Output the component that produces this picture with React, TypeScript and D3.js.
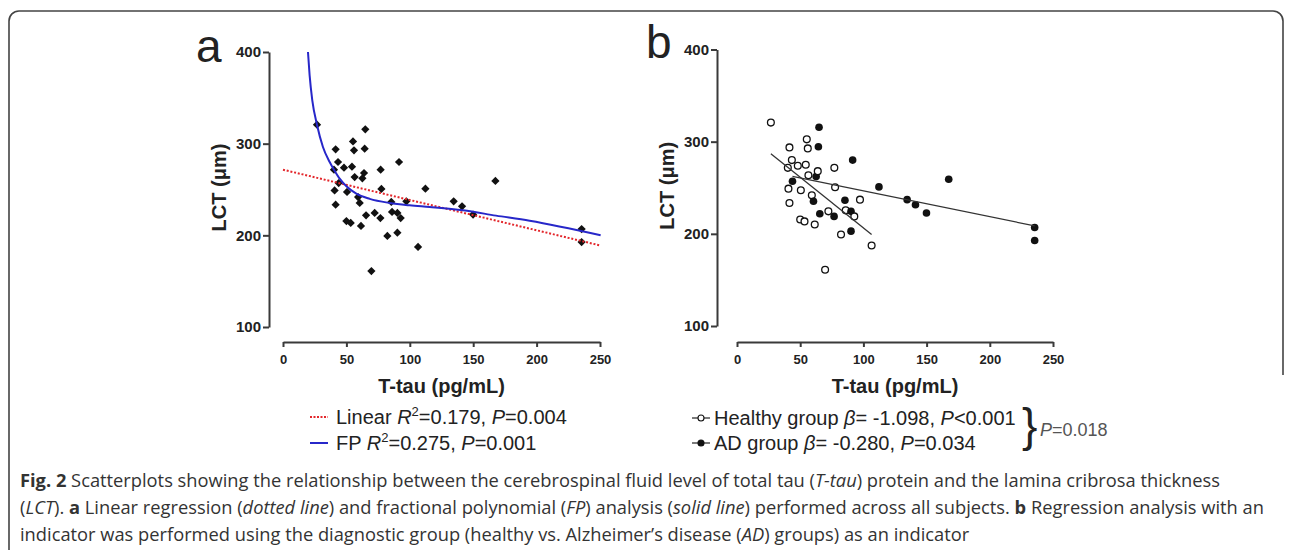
import React, { useEffect, useRef } from 'react';
import * as d3 from 'd3';

// values
// T-tau (pg/mL), LCT (um) and diagnostic group (H = healthy, A = Alzheimer's disease)
const tTau = [26.8, 41.5, 43.4, 40.2, 48.1, 43.9, 40.7, 41.5, 50.5, 55.2, 56.0, 54.4, 56.5, 62.6, 63.9, 64.9, 64.4, 59.2, 60.5, 50.0, 53.4, 61.5,
  65.5, 72.3, 76.8, 69.7, 77.0, 77.6, 85.4, 86.0, 90.2, 92.8, 82.3, 90.2, 91.5, 97.3, 106.5, 112.3, 134.6, 141.2, 149.9, 167.5, 235.5, 235.5];
const lct = [320.7, 293.8, 280.0, 271.6, 273.8, 257.0, 249.0, 233.5, 247.3, 302.5, 292.7, 274.9, 263.6, 262.2, 268.0, 315.6, 294.5, 241.8, 235.3, 215.6, 213.5, 210.2,
  221.8, 224.4, 218.9, 161.0, 271.6, 250.6, 236.4, 225.5, 224.4, 218.9, 199.3, 202.9, 280.0, 237.1, 187.3, 250.9, 237.1, 231.6, 222.6, 259.3, 206.9, 192.7];
const group = ['H', 'H', 'H', 'H', 'H', 'A', 'H', 'H', 'H', 'H', 'H', 'H', 'H', 'A', 'H', 'A', 'A', 'H', 'A', 'H', 'H', 'H',
  'A', 'H', 'A', 'H', 'H', 'H', 'A', 'H', 'A', 'H', 'H', 'A', 'A', 'H', 'H', 'A', 'A', 'A', 'A', 'A', 'A', 'A'];

const xTicks = [0, 50, 100, 150, 200, 250];
const yTicks = [100, 200, 300, 400];

// panel a fits: linear regression end points, fractional polynomial
const linearFit = [[0, 271.6], [250, 189.0]];
const fpCurve = [[19.7, 400], [21.0, 374.5], [23.1, 347.3], [26.8, 320.7], [31.5, 296.4], [36.8, 280.0], [40.2, 271.6], [44.7, 261.8],
  [50.0, 253.5], [57.8, 245.5], [68.4, 239.8], [84.1, 235.3], [99.9, 232.7], [115.7, 230.9], [142.0, 227.3], [168.0, 221.5], [194.5, 215.8], [250.5, 200.0]];

// panel b: intercept and slope per group
const healthyFit = [316.2, -1.098];
const adFit = [274.6, -0.280];

type Part = { t: string; b?: boolean; i?: boolean; sup?: boolean };

const legendA: Part[][] = [
  [{ t: 'Linear ' }, { t: 'R', i: true }, { t: '2', sup: true }, { t: '=0.179, ' }, { t: 'P', i: true }, { t: '=0.004' }],
  [{ t: 'FP ' }, { t: 'R', i: true }, { t: '2', sup: true }, { t: '=0.275, ' }, { t: 'P', i: true }, { t: '=0.001' }],
];
const legendB: Part[][] = [
  [{ t: 'Healthy group ' }, { t: 'β', i: true }, { t: '= -1.098, ' }, { t: 'P', i: true }, { t: '<0.001' }],
  [{ t: 'AD group ' }, { t: 'β', i: true }, { t: '= -0.280, ' }, { t: 'P', i: true }, { t: '=0.034' }],
];
const interaction: Part[] = [{ t: 'P', i: true }, { t: '=0.018' }];

const caption: Part[][] = [
  [{ t: 'Fig. 2', b: true }, { t: ' Scatterplots showing the relationship between the cerebrospinal fluid level of total tau (' }, { t: 'T-tau', i: true },
    { t: ') protein and the lamina cribrosa thickness' }],
  [{ t: '(' }, { t: 'LCT', i: true }, { t: '). ' }, { t: 'a', b: true }, { t: ' Linear regression (' }, { t: 'dotted line', i: true },
    { t: ') and fractional polynomial (' }, { t: 'FP', i: true }, { t: ') analysis (' }, { t: 'solid line', i: true },
    { t: ') performed across all subjects. ' }, { t: 'b', b: true }, { t: ' Regression analysis with an' }],
  [{ t: 'indicator was performed using the diagnostic group (healthy vs. Alzheimer’s disease (' }, { t: 'AD', i: true }, { t: ') groups) as an indicator' }],
];

const W = 1292;
const H = 550;
const chartFont = '"Liberation Sans", Arial, sans-serif';
const captionFont = '"Open Sans", "Noto Sans", sans-serif';
const ink = '#222';

const panelA = { axisX: 269, x0: 283, x1: 600, yTop: 52, yBottom: 327, xAxisY: 342, letter: 'a', letterX: 196, letterY: 62 };
const panelB = { axisX: 717, x0: 737, x1: 1053, yTop: 49.5, yBottom: 326, xAxisY: 342, letter: 'b', letterX: 646, letterY: 58 };

const richText = (g: any, x: number, y: number, parts: Part[], size: number) => {
  const text = g.append('text').attr('x', x).attr('y', y).attr('font-size', size).style('white-space', 'pre');
  let raised = false;
  parts.forEach(p => {
    const ts = text.append('tspan').text(p.t);
    if (p.b) ts.attr('font-weight', 'bold');
    if (p.i) ts.attr('font-style', 'italic');
    if (p.sup) {
      ts.attr('font-size', size * 0.65).attr('dy', -size * 0.42);
      raised = true;
    } else if (raised) {
      ts.attr('dy', size * 0.42);
      raised = false;
    }
  });
  return text;
};

const App = () => {

  const chartRef = useRef<SVGSVGElement>(null);

  useEffect(() => {
    const svg = d3.select(chartRef.current);
    svg.selectAll('*').remove();
    plotFrame(svg);
    const a = plotAxes(svg, panelA);
    plotPanelA(svg, a.x, a.y);
    const b = plotAxes(svg, panelB);
    plotPanelB(svg, b.x, b.y);
    plotCaption(svg);
  });

  const plotFrame = (svg: any) => {
    svg.append('path')
      .attr('d', 'M9,550V21A10,10 0 0 1 19,11H1273A10,10 0 0 1 1283,21V375')
      .attr('fill', 'none')
      .attr('stroke', '#444')
      .attr('stroke-width', 1.6);
  };

  const plotAxes = (svg: any, p: typeof panelA) => {
    const xScale = d3.scaleLinear().domain([0, 250]).range([p.x0, p.x1]);
    const yScale = d3.scaleLinear().domain([100, 400]).range([p.yBottom, p.yTop]);
    const g = svg.append('g').attr('font-family', chartFont);

    g.append('g')
      .attr('transform', `translate(${p.axisX}, 0)`)
      .call(d3.axisLeft(yScale).tickValues(yTicks).tickSize(6).tickSizeOuter(0).tickPadding(2))
      .attr('font-family', chartFont)
      .attr('font-size', 15)
      .attr('font-weight', 'bold')
      .style('color', ink)
      .call((s: any) => s.selectAll('.domain, .tick line').attr('stroke-width', 2).attr('stroke', '#3a3a3a'));

    g.append('g')
      .attr('transform', `translate(0, ${p.xAxisY})`)
      .call(d3.axisBottom(xScale).tickValues(xTicks).tickSize(5).tickSizeOuter(0).tickPadding(8))
      .attr('font-family', chartFont)
      .attr('font-size', 13)
      .attr('font-weight', 'bold')
      .style('color', ink)
      .call((s: any) => s.selectAll('.domain, .tick line').attr('stroke-width', 2).attr('stroke', '#3a3a3a'));

    g.append('text')
      .attr('x', (p.x0 + p.x1) / 2)
      .attr('y', 393)
      .attr('text-anchor', 'middle')
      .attr('font-size', 20)
      .attr('font-weight', 'bold')
      .attr('fill', ink)
      .text('T-tau (pg/mL)');

    g.append('text')
      .attr('transform', `translate(${p.axisX - 50}, ${(p.yTop + p.yBottom) / 2 - 2}) rotate(-90)`)
      .attr('dy', '0.35em')
      .attr('text-anchor', 'middle')
      .attr('font-size', 20)
      .attr('font-weight', 'bold')
      .attr('fill', ink)
      .text('LCT (μm)');

    g.append('text')
      .attr('x', p.letterX)
      .attr('y', p.letterY)
      .attr('font-size', 46)
      .attr('fill', ink)
      .text(p.letter);

    return { x: xScale, y: yScale };
  };

  const plotPanelA = (svg: any, xScale: any, yScale: any) => {
    const diamond = d3.symbol().type(d3.symbolSquare).size(34);

    svg.append('g')
      .selectAll('path')
      .data(d3.range(tTau.length))
      .join('path')
      .attr('d', diamond)
      .attr('transform', (i: number) => `translate(${xScale(tTau[i])}, ${yScale(lct[i])}) rotate(45)`)
      .attr('fill', '#111');

    const line = d3.line().x((d: any) => xScale(d[0])).y((d: any) => yScale(d[1]));

    svg.append('path')
      .attr('d', line(linearFit as any))
      .attr('fill', 'none')
      .attr('stroke', '#e3262b')
      .attr('stroke-width', 2)
      .attr('stroke-dasharray', '2,1.8');

    svg.append('path')
      .attr('d', line.curve(d3.curveMonotoneX)(fpCurve as any))
      .attr('fill', 'none')
      .attr('stroke', '#2727c9')
      .attr('stroke-width', 2);

    const legend = svg.append('g').attr('font-family', chartFont).attr('fill', ink);
    const rows = [417, 443];
    legend.append('line').attr('x1', 310).attr('x2', 328).attr('y1', rows[0]).attr('y2', rows[0])
      .attr('stroke', '#e3262b').attr('stroke-width', 2).attr('stroke-dasharray', '2,1.5');
    legend.append('line').attr('x1', 310).attr('x2', 328).attr('y1', rows[1]).attr('y2', rows[1])
      .attr('stroke', '#2727c9').attr('stroke-width', 2);
    legendA.forEach((parts, i) => richText(legend, 336, rows[i] + 7, parts, 20));
  };

  const plotPanelB = (svg: any, xScale: any, yScale: any) => {
    const idx = d3.range(tTau.length);

    svg.append('g')
      .selectAll('circle')
      .data(idx)
      .join('circle')
      .attr('cx', (i: number) => xScale(tTau[i]))
      .attr('cy', (i: number) => yScale(lct[i]))
      .attr('r', (i: number) => group[i] === 'H' ? 3.4 : 3.8)
      .attr('fill', (i: number) => group[i] === 'H' ? '#fff' : '#111')
      .attr('stroke', '#111')
      .attr('stroke-width', (i: number) => group[i] === 'H' ? 1.3 : 0);

    const fits: [string, number[]][] = [['H', healthyFit], ['A', adFit]];
    fits.forEach(([key, [b0, b1]]) => {
      const [lo, hi] = d3.extent(idx.filter(i => group[i] === key), i => tTau[i]) as [number, number];
      svg.append('line')
        .attr('x1', xScale(lo)).attr('y1', yScale(b0 + b1 * lo))
        .attr('x2', xScale(hi)).attr('y2', yScale(b0 + b1 * hi))
        .attr('stroke', '#333')
        .attr('stroke-width', 1.3);
    });

    const legend = svg.append('g').attr('font-family', chartFont).attr('fill', ink);
    const rows = [418, 443];
    rows.forEach((y, i) => {
      legend.append('line').attr('x1', 692).attr('x2', 710).attr('y1', y).attr('y2', y)
        .attr('stroke', '#333').attr('stroke-width', 1.3);
      legend.append('circle').attr('cx', 701).attr('cy', y).attr('r', 3)
        .attr('fill', i === 0 ? '#fff' : '#111').attr('stroke', '#111').attr('stroke-width', 1.1);
      richText(legend, 714, y + 7, legendB[i], 20);
    });

    legend.append('text')
      .attr('x', 1022)
      .attr('y', 441)
      .attr('font-size', 46)
      .text('}');
    richText(legend, 1040, 436, interaction, 18).attr('fill', '#555');
  };

  const plotCaption = (svg: any) => {
    const g = svg.append('g').attr('font-family', captionFont).attr('fill', '#333');
    caption.forEach((parts, i) => richText(g, 20, 487 + i * 27, parts, 18.3));
  };

  return (
    <svg
      ref={chartRef}
      width={W}
      height={H}
      viewBox={`0 0 ${W} ${H}`}
      style={{ position: 'absolute', left: 0, top: 0, background: '#fff' }}
    />
  );
};

export default App;
